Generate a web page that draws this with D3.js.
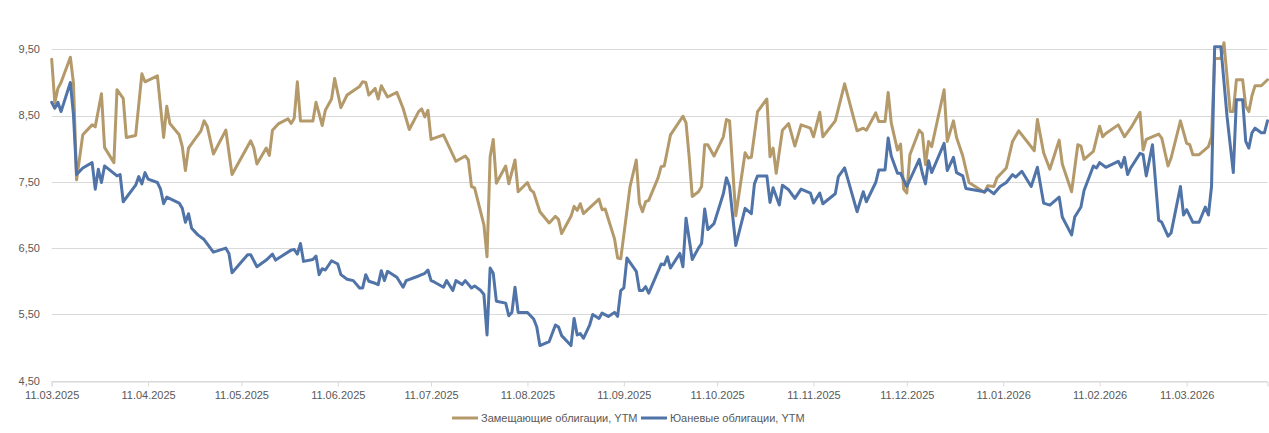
<!DOCTYPE html>
<html>
<head>
<meta charset="utf-8">
<script src="https://cdn.jsdelivr.net/npm/d3@7"></script>
<style>
  body { margin: 0; background: #fff; }
  text { font-family: "Liberation Sans", Arial, sans-serif; }
</style>
</head>
<body>
<div id="chart"></div>
<script>
// Замещающие облигации, YTM
const zamDates = ["2025-03-11","2025-03-12","2025-03-13","2025-03-14","2025-03-17","2025-03-18","2025-03-19","2025-03-21","2025-03-24","2025-03-25","2025-03-27","2025-03-28","2025-03-31","2025-04-01","2025-04-03","2025-04-04","2025-04-07","2025-04-09","2025-04-10","2025-04-14","2025-04-16","2025-04-17","2025-04-18","2025-04-21","2025-04-22","2025-04-23","2025-04-24","2025-04-26","2025-04-28","2025-04-29","2025-04-30","2025-05-02","2025-05-06","2025-05-08","2025-05-14","2025-05-15","2025-05-16","2025-05-19","2025-05-20","2025-05-21","2025-05-23","2025-05-26","2025-05-27","2025-05-28","2025-05-29","2025-05-30","2025-06-03","2025-06-04","2025-06-05","2025-06-06","2025-06-07","2025-06-09","2025-06-10","2025-06-12","2025-06-14","2025-06-18","2025-06-19","2025-06-20","2025-06-21","2025-06-23","2025-06-24","2025-06-25","2025-06-27","2025-06-30","2025-07-02","2025-07-04","2025-07-07","2025-07-08","2025-07-09","2025-07-10","2025-07-11","2025-07-15","2025-07-19","2025-07-22","2025-07-23","2025-07-24","2025-07-25","2025-07-28","2025-07-29","2025-07-30","2025-07-31","2025-08-01","2025-08-04","2025-08-05","2025-08-07","2025-08-08","2025-08-11","2025-08-12","2025-08-13","2025-08-15","2025-08-18","2025-08-20","2025-08-21","2025-08-22","2025-08-25","2025-08-26","2025-08-27","2025-08-28","2025-08-29","2025-09-03","2025-09-04","2025-09-05","2025-09-08","2025-09-09","2025-09-10","2025-09-11","2025-09-13","2025-09-15","2025-09-16","2025-09-17","2025-09-18","2025-09-19","2025-09-22","2025-09-23","2025-09-24","2025-09-26","2025-09-30","2025-10-01","2025-10-02","2025-10-03","2025-10-05","2025-10-06","2025-10-07","2025-10-08","2025-10-10","2025-10-13","2025-10-14","2025-10-15","2025-10-17","2025-10-20","2025-10-21","2025-10-22","2025-10-24","2025-10-27","2025-10-28","2025-10-29","2025-10-30","2025-11-01","2025-11-03","2025-11-05","2025-11-07","2025-11-10","2025-11-11","2025-11-13","2025-11-14","2025-11-18","2025-11-21","2025-11-25","2025-11-27","2025-11-28","2025-12-01","2025-12-02","2025-12-04","2025-12-05","2025-12-06","2025-12-08","2025-12-09","2025-12-10","2025-12-11","2025-12-12","2025-12-15","2025-12-16","2025-12-17","2025-12-18","2025-12-19","2025-12-23","2025-12-24","2025-12-26","2025-12-27","2025-12-29","2025-12-31","2026-01-05","2026-01-06","2026-01-08","2026-01-09","2026-01-12","2026-01-14","2026-01-16","2026-01-21","2026-01-22","2026-01-24","2026-01-26","2026-01-29","2026-01-30","2026-02-02","2026-02-04","2026-02-05","2026-02-06","2026-02-09","2026-02-11","2026-02-12","2026-02-13","2026-02-17","2026-02-19","2026-02-21","2026-02-24","2026-02-25","2026-02-26","2026-03-02","2026-03-03","2026-03-05","2026-03-06","2026-03-09","2026-03-11","2026-03-12","2026-03-13","2026-03-15","2026-03-18","2026-03-19","2026-03-20","2026-03-22","2026-03-23","2026-03-25","2026-03-26","2026-03-27","2026-03-29","2026-03-30","2026-03-31","2026-04-01","2026-04-02","2026-04-04","2026-04-06"];
const zamValues = [9.35,8.69,8.91,9.00,9.38,8.99,7.53,8.21,8.36,8.33,8.83,8.02,7.79,8.89,8.76,8.17,8.20,9.13,9.01,9.10,8.17,8.64,8.38,8.21,8.03,7.67,8.01,8.14,8.27,8.42,8.34,7.92,8.28,7.61,8.12,8.01,7.77,8.01,7.90,8.28,8.38,8.45,8.38,8.46,9.01,8.42,8.42,8.70,8.53,8.35,8.58,8.75,9.06,8.62,8.81,8.94,9.01,9.00,8.81,8.91,8.75,8.95,8.78,8.85,8.61,8.29,8.56,8.60,8.48,8.58,8.14,8.21,7.81,7.89,7.83,7.43,7.41,6.85,6.37,7.88,8.14,7.48,7.74,7.47,7.83,7.35,7.49,7.38,7.34,7.05,6.88,6.98,6.93,6.72,6.98,7.13,7.07,7.17,7.02,7.24,7.08,7.09,6.64,6.35,6.34,6.70,7.43,7.83,7.18,7.05,7.20,7.22,7.56,7.73,7.74,8.21,8.49,8.39,7.88,7.28,7.35,7.43,8.06,8.06,7.89,8.18,8.44,8.42,6.99,7.94,7.86,7.87,8.56,8.75,7.88,8.01,7.63,8.28,8.38,8.04,8.36,8.31,8.18,8.55,8.18,8.42,8.98,8.27,8.31,8.28,8.54,8.41,8.41,8.85,8.39,7.98,8.07,7.39,7.33,7.91,8.28,8.23,7.76,8.11,8.03,8.89,8.11,8.42,8.17,7.89,7.49,7.34,7.44,7.43,7.56,7.71,8.11,8.27,7.97,8.44,7.94,7.69,8.13,7.77,7.35,8.06,8.04,7.84,7.96,8.34,8.18,8.23,8.36,8.18,8.31,8.55,7.98,8.14,8.22,8.16,7.74,7.86,8.42,8.08,8.06,7.91,7.91,8.03,8.18,9.36,9.36,9.60,8.56,8.56,9.04,9.04,8.64,8.56,8.80,8.95,8.95,9.04];

// Юаневые облигации, YTM
const yuanDates = ["2025-03-11","2025-03-12","2025-03-13","2025-03-14","2025-03-17","2025-03-18","2025-03-19","2025-03-21","2025-03-24","2025-03-25","2025-03-26","2025-03-27","2025-03-28","2025-04-01","2025-04-02","2025-04-03","2025-04-07","2025-04-08","2025-04-09","2025-04-10","2025-04-11","2025-04-14","2025-04-15","2025-04-16","2025-04-17","2025-04-21","2025-04-22","2025-04-23","2025-04-24","2025-04-25","2025-04-27","2025-04-29","2025-05-02","2025-05-06","2025-05-07","2025-05-08","2025-05-13","2025-05-14","2025-05-16","2025-05-19","2025-05-21","2025-05-22","2025-05-27","2025-05-28","2025-05-29","2025-05-30","2025-05-31","2025-06-03","2025-06-04","2025-06-05","2025-06-06","2025-06-07","2025-06-09","2025-06-11","2025-06-12","2025-06-14","2025-06-16","2025-06-18","2025-06-19","2025-06-20","2025-06-21","2025-06-23","2025-06-24","2025-06-25","2025-06-26","2025-06-27","2025-06-30","2025-07-02","2025-07-03","2025-07-07","2025-07-09","2025-07-10","2025-07-11","2025-07-12","2025-07-15","2025-07-16","2025-07-18","2025-07-19","2025-07-21","2025-07-22","2025-07-24","2025-07-25","2025-07-27","2025-07-28","2025-07-29","2025-07-30","2025-07-31","2025-08-01","2025-08-04","2025-08-05","2025-08-06","2025-08-07","2025-08-08","2025-08-11","2025-08-13","2025-08-14","2025-08-15","2025-08-18","2025-08-20","2025-08-21","2025-08-22","2025-08-25","2025-08-26","2025-08-27","2025-08-28","2025-08-29","2025-08-31","2025-09-01","2025-09-03","2025-09-04","2025-09-06","2025-09-08","2025-09-09","2025-09-10","2025-09-11","2025-09-12","2025-09-15","2025-09-16","2025-09-17","2025-09-18","2025-09-19","2025-09-23","2025-09-24","2025-09-25","2025-09-26","2025-09-29","2025-09-30","2025-10-01","2025-10-03","2025-10-05","2025-10-06","2025-10-07","2025-10-08","2025-10-10","2025-10-13","2025-10-14","2025-10-15","2025-10-17","2025-10-20","2025-10-22","2025-10-23","2025-10-24","2025-10-27","2025-10-28","2025-10-29","2025-10-31","2025-11-01","2025-11-03","2025-11-05","2025-11-07","2025-11-10","2025-11-11","2025-11-13","2025-11-14","2025-11-18","2025-11-19","2025-11-21","2025-11-25","2025-11-27","2025-11-28","2025-12-01","2025-12-02","2025-12-04","2025-12-05","2025-12-06","2025-12-08","2025-12-09","2025-12-11","2025-12-15","2025-12-16","2025-12-17","2025-12-18","2025-12-19","2025-12-23","2025-12-24","2025-12-26","2025-12-27","2025-12-29","2025-12-30","2026-01-05","2026-01-06","2026-01-08","2026-01-10","2026-01-12","2026-01-14","2026-01-15","2026-01-17","2026-01-20","2026-01-22","2026-01-24","2026-01-26","2026-01-29","2026-01-30","2026-02-02","2026-02-03","2026-02-05","2026-02-06","2026-02-09","2026-02-10","2026-02-11","2026-02-13","2026-02-17","2026-02-18","2026-02-19","2026-02-20","2026-02-21","2026-02-24","2026-02-25","2026-02-26","2026-02-28","2026-03-02","2026-03-03","2026-03-05","2026-03-06","2026-03-09","2026-03-10","2026-03-11","2026-03-13","2026-03-15","2026-03-17","2026-03-18","2026-03-19","2026-03-20","2026-03-22","2026-03-24","2026-03-26","2026-03-27","2026-03-29","2026-03-30","2026-03-31","2026-04-01","2026-04-02","2026-04-04","2026-04-05","2026-04-06"];
const yuanValues = [8.70,8.61,8.70,8.56,9.00,8.51,7.61,7.71,7.79,7.39,7.69,7.49,7.74,7.59,7.61,7.20,7.45,7.58,7.47,7.64,7.54,7.49,7.39,7.17,7.27,7.18,7.10,6.89,7.02,6.80,6.70,6.63,6.44,6.50,6.42,6.13,6.40,6.40,6.22,6.32,6.41,6.32,6.47,6.48,6.41,6.57,6.30,6.33,6.38,6.10,6.19,6.17,6.31,6.26,6.10,6.03,6.01,5.90,5.90,6.10,6.00,5.97,5.95,6.16,6.01,6.15,6.06,5.91,6.01,6.08,6.12,6.17,6.01,5.99,5.91,6.01,5.86,6.01,5.95,6.01,5.90,5.93,5.86,5.80,5.19,6.20,6.12,5.70,5.67,5.48,5.53,5.91,5.53,5.53,5.43,5.31,5.03,5.09,5.34,5.31,5.18,5.03,5.44,5.19,5.21,5.14,5.34,5.50,5.44,5.52,5.47,5.53,5.47,5.86,5.90,6.35,6.15,5.86,5.86,5.92,5.82,6.26,6.25,6.37,6.20,6.42,6.22,6.95,6.33,6.50,6.57,7.09,6.78,6.87,7.32,7.56,7.43,6.54,7.10,7.02,7.47,7.59,7.59,7.19,7.41,7.15,7.45,7.38,7.25,7.39,7.33,7.18,7.33,7.17,7.32,7.58,7.71,7.05,7.35,7.20,7.49,7.68,7.68,8.16,7.89,7.63,7.63,7.43,7.84,7.63,7.47,7.82,7.64,8.08,7.67,7.87,7.64,7.59,7.40,7.35,7.39,7.32,7.43,7.49,7.61,7.57,7.66,7.43,7.72,7.18,7.15,7.27,6.97,6.70,6.97,7.12,7.37,7.74,7.71,7.79,7.72,7.81,7.72,7.87,7.61,7.71,7.93,7.91,7.59,8.06,6.92,6.89,6.68,6.73,7.43,7.00,7.08,6.89,6.89,7.12,7.00,7.43,9.54,9.54,8.48,7.64,8.74,8.74,8.11,8.01,8.24,8.31,8.24,8.24,8.42];

// Подписи осей
const yTicks = [4.5, 5.5, 6.5, 7.5, 8.5, 9.5];
const xTickLabels = ["11.03.2025","11.04.2025","11.05.2025","11.06.2025","11.07.2025","11.08.2025","11.09.2025","11.10.2025","11.11.2025","11.12.2025","11.01.2026","11.02.2026","11.03.2026"];
const seriesNames = ["Замещающие облигации, YTM", "Юаневые облигации, YTM"];
const seriesColors = ["#B4996A", "#5073A8"];

const width = 1269, height = 433;
const parseIso = d3.timeParse("%Y-%m-%d");
const parseRu = d3.timeParse("%d.%m.%Y");

const svg = d3.select("#chart").append("svg")
    .attr("width", width)
    .attr("height", height);

const x = d3.scaleTime()
    .domain([parseIso("2025-03-11"), parseIso("2026-04-06")])
    .range([51.7, 1267.5]);

const y = d3.scaleLinear()
    .domain([4.5, 9.5])
    .range([380.7, 49.3]);

const fmt = d3.format(".2f");

// Горизонтальная сетка
svg.append("g")
    .selectAll("line")
    .data(yTicks)
    .join("line")
    .attr("x1", x.range()[0])
    .attr("x2", x.range()[1])
    .attr("y1", d => Math.round(y(d)) + 0.5)
    .attr("y2", d => Math.round(y(d)) + 0.5)
    .attr("stroke", "#d9d9d9")
    .attr("stroke-width", 1);

// Подписи оси Y
svg.append("g")
    .selectAll("text")
    .data(yTicks)
    .join("text")
    .attr("x", 40)
    .attr("y", d => y(d))
    .attr("dy", "0.35em")
    .attr("text-anchor", "end")
    .attr("font-size", "11px")
    .attr("fill", "#595959")
    .text(d => fmt(d).replace(".", ","));

// Ось X
const xAxis = d3.axisBottom(x)
    .tickValues(xTickLabels.map(parseRu))
    .tickSize(5)
    .tickFormat(d3.timeFormat("%d.%m.%Y"));

const gx = svg.append("g")
    .attr("transform", `translate(0,${Math.round(y(4.5)) + 0.5})`)
    .call(xAxis);
gx.select(".domain").attr("stroke", "#d9d9d9");
gx.selectAll(".tick line").attr("stroke", "#d9d9d9");
gx.selectAll(".tick text")
    .attr("font-family", "'Liberation Sans', Arial, sans-serif")
    .attr("font-size", "11px")
    .attr("fill", "#595959")
    .attr("y", 10);

// Линии
const line = d3.line()
    .x(d => x(d.date))
    .y(d => y(d.value));

const series = [
    zamDates.map((d, i) => ({ date: parseIso(d), value: zamValues[i] })),
    yuanDates.map((d, i) => ({ date: parseIso(d), value: yuanValues[i] }))
];

svg.append("g")
    .selectAll("path")
    .data(series)
    .join("path")
    .attr("d", line)
    .attr("fill", "none")
    .attr("stroke", (d, i) => seriesColors[i])
    .attr("stroke-width", 3)
    .attr("stroke-linejoin", "round")
    .attr("stroke-linecap", "round");

// Легенда
const legendX = [452, 641];
const legend = svg.append("g")
    .selectAll("g")
    .data(seriesNames)
    .join("g")
    .attr("transform", (d, i) => `translate(${legendX[i]},418)`);

legend.append("line")
    .attr("x1", 0).attr("x2", 26)
    .attr("stroke", (d, i) => seriesColors[i])
    .attr("stroke-width", 3);

legend.append("text")
    .attr("x", 29)
    .attr("dy", "0.35em")
    .attr("font-size", "11px")
    .attr("fill", "#595959")
    .text(d => d);
</script>
</body>
</html>
